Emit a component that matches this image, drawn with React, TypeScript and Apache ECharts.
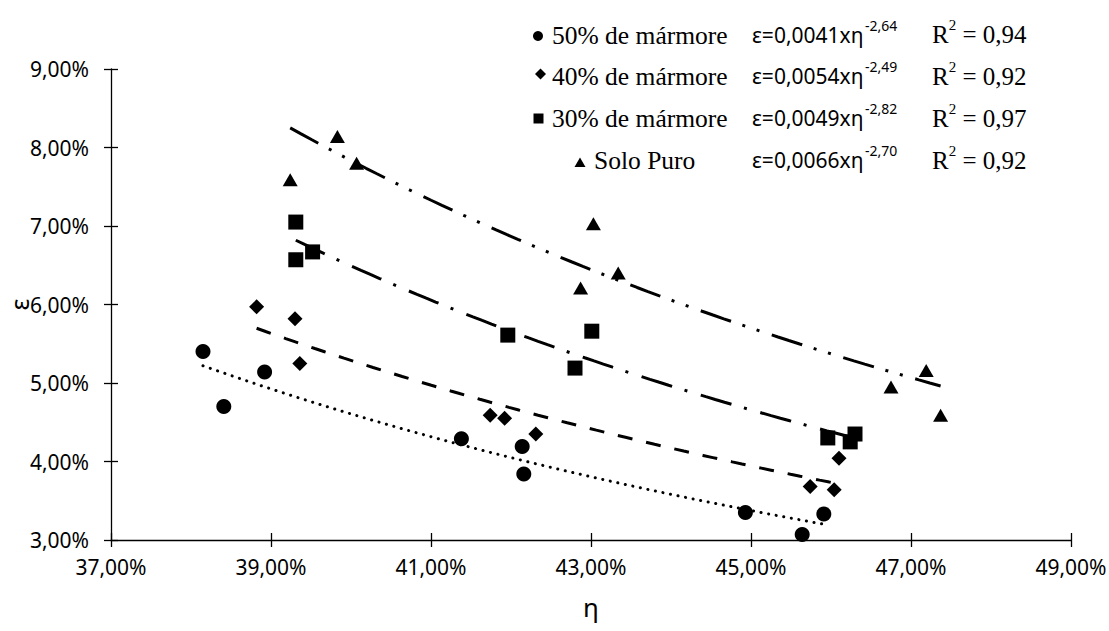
import React, { useEffect, useRef } from 'react';
import * as echarts from 'echarts';

// η (%) and ε (%) values
const eta50 = [38.15, 38.41, 38.92, 41.38, 42.14, 42.16, 44.93, 45.64, 45.91];
const eps50 = [5.40, 4.70, 5.14, 4.29, 4.19, 3.84, 3.35, 3.07, 3.33];
const eta40 = [38.82, 39.30, 39.36, 41.74, 41.92, 42.31, 45.74, 46.04, 46.10];
const eps40 = [5.97, 5.82, 5.25, 4.59, 4.55, 4.35, 3.68, 3.64, 4.04];
const eta30 = [39.31, 39.31, 39.52, 41.96, 42.80, 43.01, 45.96, 46.24, 46.30];
const eps30 = [7.05, 6.57, 6.67, 5.61, 5.19, 5.66, 4.30, 4.25, 4.35];
const etaSP = [39.24, 39.83, 40.07, 42.87, 43.03, 43.34, 46.75, 47.19, 47.37];
const epsSP = [7.59, 8.14, 7.80, 6.21, 7.03, 6.40, 4.95, 5.16, 4.59];

const seriesNames = ['50% de mármore', '40% de mármore', '30% de mármore', 'Solo Puro'];
const coefA = [0.0041, 0.0054, 0.0049, 0.0066];
const coefB = [-2.64, -2.49, -2.82, -2.70];
const coefAText = ['0,0041', '0,0054', '0,0049', '0,0066'];
const coefBText = ['-2,64', '-2,49', '-2,82', '-2,70'];
const r2Text = ['0,94', '0,92', '0,97', '0,92'];

const xTicks = { min: 37, max: 49, interval: 2 };
const yTicks = { min: 3, max: 9, interval: 1 };

const etas = [eta50, eta40, eta30, etaSP];
const epss = [eps50, eps40, eps30, epsSP];
const symbols = ['circle', 'diamond', 'rect', 'triangle'];
const symbolSizes: any[] = [15, 15, 15, [15, 13]];
const dashes: any[] = [
  [0.1, 7.6],
  [15, 14],
  [32, 13, 3, 14],
  [32, 12, 3, 12, 3, 13],
];
const caps = ['round', 'butt', 'butt', 'butt'];

function trend(i: number) {
  const xs = etas[i];
  const lo = Math.min(...xs);
  const hi = Math.max(...xs);
  const pts: number[][] = [];
  const n = 60;
  for (let k = 0; k <= n; k++) {
    const x = lo + ((hi - lo) * k) / n;
    pts.push([x, 100 * coefA[i] * Math.pow(x / 100, coefB[i])]);
  }
  return pts;
}

const fmt = (v: number) => v.toFixed(2).replace('.', ',') + '%';

export default function App() {
  const ref = useRef<HTMLDivElement>(null);
  useEffect(() => {
    document.body.style.margin = '0';
    const chart = echarts.init(ref.current!, null, { renderer: 'svg' });
    const tickFont = { fontFamily: 'Noto Sans', fontSize: 21, color: '#000' };
    const axisLine = { show: true, lineStyle: { color: '#000', width: 1.3 } };

    const series: any[] = [];
    for (let i = 0; i < 4; i++) {
      series.push({
        type: 'line',
        name: seriesNames[i] + ' trend',
        data: trend(i),
        showSymbol: false,
        symbol: 'none',
        smooth: false,
        lineStyle: { color: '#000', width: 3, type: dashes[i], cap: caps[i] },
        z: 2,
        silent: true,
      });
    }
    for (let i = 0; i < 4; i++) {
      series.push({
        type: 'scatter',
        name: seriesNames[i],
        data: etas[i].map((x, k) => [x, epss[i][k]]),
        symbol: symbols[i],
        symbolSize: symbolSizes[i],
        itemStyle: { color: '#000', opacity: 1 },
        z: 3,
      });
    }

    const rowY = [35, 76, 118, 160];
    const r2Y = [32, 74, 116, 158];
    const markers: any[] = [
      { type: 'circle', shape: { cx: 538, cy: 36, r: 5 }, style: { fill: '#000' } },
      { type: 'polygon', shape: { points: [[540.5, 68.5], [546, 74], [540.5, 79.5], [535, 74]] }, style: { fill: '#000' } },
      { type: 'rect', shape: { x: 533.5, y: 113.5, width: 10, height: 10 }, style: { fill: '#000' } },
      { type: 'polygon', shape: { points: [[580, 157.5], [585.5, 167], [574.5, 167]] }, style: { fill: '#000' } },
    ];
    const nameX = [552, 552, 552, 594];
    const graphics: any[] = [...markers];
    for (let i = 0; i < 4; i++) {
      graphics.push({
        type: 'text',
        x: nameX[i],
        y: rowY[i],
        style: {
          text: seriesNames[i],
          fontFamily: 'Liberation Serif',
          fontSize: 25.5,
          fill: '#000',
          align: 'left',
          verticalAlign: 'middle',
        },
      });
      graphics.push({
        type: 'text',
        x: 752,
        y: rowY[i],
        style: {
          text: 'ε=' + coefAText[i] + 'xη',
          fontFamily: 'Noto Sans',
          fontSize: 21,
          fill: '#000',
          align: 'left',
          verticalAlign: 'middle',
        },
      });
      graphics.push({
        type: 'text',
        x: 865,
        y: rowY[i] - 10,
        style: {
          text: coefBText[i],
          fontFamily: 'Noto Sans',
          fontSize: 14,
          fill: '#000',
          align: 'left',
          verticalAlign: 'middle',
        },
      });
      graphics.push({
        type: 'text',
        x: 932,
        y: r2Y[i],
        style: {
          text: '{b|R}{s|2}{b| = ' + r2Text[i] + '}',
          align: 'left',
          verticalAlign: 'middle',
          rich: {
            b: { fontFamily: 'Liberation Serif', fontSize: 25, lineHeight: 30, verticalAlign: 'bottom', fill: '#000' },
            s: { fontFamily: 'Liberation Serif', fontSize: 15, lineHeight: 16, verticalAlign: 'top', fill: '#000' },
          },
        },
      });
    }

    const option: any = {
      animation: false,
      backgroundColor: '#fff',
      grid: { left: 111, right: 38, top: 69, bottom: 91, containLabel: false, outerBoundsMode: 'none' },
      xAxis: [
        {
          type: 'value',
          ...xTicks,
          name: 'η',
          nameLocation: 'middle',
          nameGap: 54,
          nameMoveOverlap: false,
          nameTextStyle: { fontFamily: 'Noto Sans', fontSize: 26, color: '#000' },
          axisLine,
          axisTick: { show: true, length: 7, lineStyle: { color: '#000', width: 1.3 } },
          axisLabel: { ...tickFont, formatter: fmt, margin: 16 },
          splitLine: { show: false },
        },
        {
          type: 'value',
          ...xTicks,
          position: 'bottom',
          axisLine: { show: false },
          axisTick: { show: true, inside: true, length: 7, lineStyle: { color: '#000', width: 1.3 } },
          axisLabel: { show: false },
          splitLine: { show: false },
        },
      ],
      yAxis: [
        {
          type: 'value',
          ...yTicks,
          name: 'ε',
          nameLocation: 'middle',
          nameGap: 80,
          nameRotate: 90,
          nameMoveOverlap: false,
          nameTextStyle: { fontFamily: 'Noto Sans', fontSize: 25, color: '#000' },
          axisLine,
          axisTick: { show: true, length: 7, lineStyle: { color: '#000', width: 1.3 } },
          axisLabel: { ...tickFont, formatter: fmt, margin: 22 },
          splitLine: { show: false },
        },
        {
          type: 'value',
          ...yTicks,
          position: 'left',
          axisLine: { show: false },
          axisTick: { show: true, inside: true, length: 7, lineStyle: { color: '#000', width: 1.3 } },
          axisLabel: { show: false },
          splitLine: { show: false },
        },
      ],
      series,
      graphic: graphics,
    };
    chart.setOption(option);
    return () => chart.dispose();
  }, []);
  return <div ref={ref} style={{ width: 1109, height: 631 }} />;
}
